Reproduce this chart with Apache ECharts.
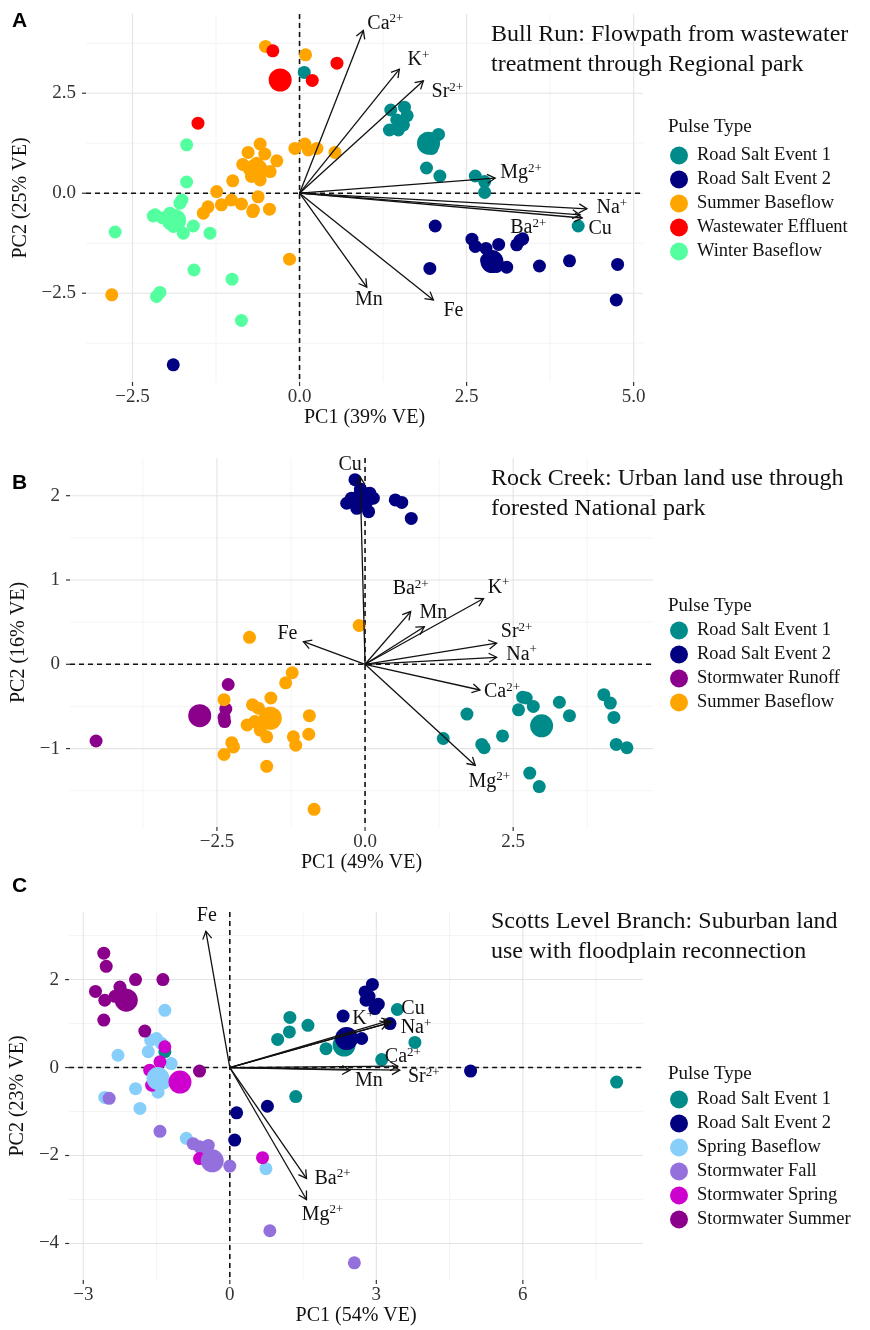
<!DOCTYPE html>
<html>
<head>
<meta charset="utf-8">
<script src="https://cdn.jsdelivr.net/npm/echarts@6/dist/echarts.min.js"></script>
<style>
  html, body { margin: 0; padding: 0; background: #ffffff; }
  #chart { width: 870px; height: 1330px; }
</style>
</head>
<body>
<div id="chart"></div>
<script>
// ---------- Panel A: Bull Run ----------
const A_groups = ['Road Salt Event 1', 'Road Salt Event 2', 'Summer Baseflow', 'Wastewater Effluent', 'Winter Baseflow'];
const A_roadSalt1 = [[1.365,2.08],[1.57,2.15],[1.61,1.94],[1.455,1.83],[1.555,1.71],[1.345,1.58],[1.48,1.58],[2.08,1.47],[1.98,1.12],[1.90,0.63],[2.10,0.43],[2.63,0.43],[2.77,0.29],[2.77,0.02],[4.17,-0.82],[0.07,3.02]];
const A_roadSalt2 = [[2.03,-0.82],[2.58,-1.15],[2.63,-1.33],[2.79,-1.38],[2.98,-1.28],[3.25,-1.29],[3.30,-1.18],[3.34,-1.14],[2.80,-1.67],[2.95,-1.83],[3.10,-1.85],[1.95,-1.88],[3.59,-1.82],[4.04,-1.69],[4.76,-1.78],[4.74,-2.67],[-1.89,-4.29]];
const A_summer = [[-0.51,3.67],[0.09,3.46],[-0.59,1.23],[-0.77,1.02],[-0.52,0.98],[-0.34,0.81],[-0.85,0.72],[-0.64,0.75],[-0.44,0.54],[-0.72,0.42],[-0.59,0.33],[-1.0,0.31],[-0.07,1.12],[0.08,1.23],[0.13,1.08],[0.26,1.12],[0.53,1.02],[-1.24,0.04],[-1.37,-0.34],[-1.44,-0.50],[-1.17,-0.29],[-1.02,-0.17],[-0.87,-0.27],[-0.69,-0.42],[-0.62,-0.09],[-0.45,-0.40],[-0.70,-0.46],[-0.15,-1.65],[-2.81,-2.54],[-0.66,0.50],[-0.75,0.60]];
const A_wastewater = [[-0.40,3.56],[0.56,3.25],[0.19,2.82],[-1.52,1.75]];
const A_winter = [[-1.69,1.21],[-1.69,0.28],[-1.76,-0.17],[-2.16,-0.54],[-1.89,-0.58],[-2.19,-0.57],[-1.94,-0.50],[-1.79,-0.25],[-1.84,-0.67],[-1.89,-0.83],[-1.74,-1.0],[-1.59,-0.82],[-1.34,-1.0],[-2.76,-0.97],[-1.58,-1.92],[-1.01,-2.15],[-2.09,-2.48],[-2.14,-2.58],[-0.87,-3.18],[-2.05,-0.62],[-1.95,-0.75]];
const A_means = [[1.93,1.25],[2.88,-1.71],[-0.65,0.58],[-0.29,2.83],[-1.87,-0.68]];
const A_vars = ['Ca2+','K+','Sr2+','Mg2+','Na+','Ba2+','Cu','Mn','Fe'];
const A_load = [[0.955,4.07],[1.494,3.10],[1.853,2.81],[2.927,0.375],[4.30,-0.39],[4.20,-0.54],[4.23,-0.62],[1.006,-2.35],[2.003,-2.67]];
const A_xTicks = [-2.5, 0, 2.5, 5];
const A_yTicks = [-2.5, 0, 2.5];
const A_xMinor = [-1.25, 1.25, 3.75];
const A_yMinor = [-3.75, -1.25, 1.25, 3.75];

// ---------- Panel B: Rock Creek ----------
const B_groups = ['Road Salt Event 1', 'Road Salt Event 2', 'Stormwater Runoff', 'Summer Baseflow'];
const B_roadSalt1 = [[2.66,-0.39],[2.59,-0.54],[2.84,-0.50],[3.28,-0.45],[3.45,-0.61],[4.03,-0.36],[4.14,-0.46],[4.20,-0.63],[4.24,-0.95],[4.42,-0.99],[1.72,-0.59],[1.32,-0.88],[1.97,-0.95],[2.01,-0.99],[2.32,-0.85],[2.78,-1.29],[2.94,-1.45],[2.72,-0.40]];
const B_roadSalt2 = [[-0.17,2.19],[-0.31,1.91],[-0.23,1.97],[-0.14,1.85],[0.06,1.81],[0.08,2.03],[0.14,1.97],[0.0,1.93],[-0.06,1.99],[0.51,1.95],[0.62,1.92],[0.78,1.73],[-0.08,2.08]];
const B_stormRunoff = [[-2.31,-0.24],[-2.35,-0.53],[-2.38,-0.63],[-2.37,-0.68],[-4.54,-0.91]];
const B_summer = [[-1.95,0.32],[-0.10,0.46],[-1.23,-0.10],[-1.34,-0.22],[-2.38,-0.42],[-1.59,-0.40],[-1.90,-0.48],[-1.80,-0.52],[-0.94,-0.61],[-1.99,-0.72],[-1.86,-0.68],[-1.77,-0.78],[-1.66,-0.86],[-1.21,-0.86],[-1.17,-0.96],[-0.95,-0.83],[-2.25,-0.93],[-2.22,-0.98],[-2.38,-1.07],[-1.66,-1.21],[-0.86,-1.72]];
const B_means = [[2.98,-0.73],[-0.03,1.97],[-2.79,-0.61],[-1.60,-0.64]];
const B_vars = ['Cu','Ba2+','Mn','K+','Sr2+','Na+','Ca2+','Mg2+','Fe'];
const B_load = [[-0.084,2.225],[0.77,0.625],[1.0,0.446],[2.0,0.78],[2.22,0.25],[2.22,0.083],[1.94,-0.305],[1.86,-1.2],[-1.04,0.268]];
const B_xTicks = [-2.5, 0, 2.5];
const B_yTicks = [-1, 0, 1, 2];
const B_xMinor = [-3.75, -1.25, 1.25, 3.75];
const B_yMinor = [-1.5, -0.5, 0.5, 1.5];

// ---------- Panel C: Scotts Level Branch ----------
const C_groups = ['Road Salt Event 1', 'Road Salt Event 2', 'Spring Baseflow', 'Stormwater Fall', 'Stormwater Spring', 'Stormwater Summer'];
const C_roadSalt1 = [[0.98,0.64],[1.23,1.14],[1.22,0.81],[1.60,0.96],[1.97,0.43],[3.43,1.32],[3.79,0.57],[3.11,0.18],[7.92,-0.33],[1.35,-0.66],[-1.33,0.36]];
const C_roadSalt2 = [[2.92,1.89],[2.77,1.72],[2.85,1.62],[2.79,1.53],[3.04,1.44],[2.97,1.34],[2.32,1.17],[2.70,0.66],[3.28,1.0],[4.93,-0.08],[0.77,-0.88],[0.14,-1.03],[0.10,-1.65],[2.45,0.75]];
const C_springBase = [[-1.33,1.30],[-1.50,0.66],[-1.67,0.36],[-2.29,0.28],[-1.20,0.09],[-1.93,-0.48],[-1.47,-0.56],[-2.56,-0.68],[-1.84,-0.93],[-0.89,-1.61],[0.74,-2.30],[-1.62,0.62],[-1.40,0.55],[-1.55,-0.15],[-1.35,-0.35]];
const C_stormFall = [[-2.47,-0.70],[-1.43,-1.45],[-0.75,-1.73],[-0.62,-1.80],[-0.44,-1.77],[-0.55,-1.92],[0.0,-2.24],[0.82,-3.71],[2.55,-4.44]];
const C_stormSpring = [[-1.33,0.47],[-1.43,0.13],[-1.64,-0.06],[-1.60,-0.40],[0.67,-2.05],[-0.62,-2.07]];
const C_stormSummer = [[-2.58,2.60],[-2.53,2.30],[-1.93,2.0],[-1.37,2.0],[-2.75,1.73],[-2.25,1.83],[-2.56,1.53],[-2.58,1.08],[-1.74,0.83],[-0.62,-0.08],[-2.35,1.62],[-2.22,1.72]];
const C_means = [[2.34,0.51],[2.39,0.66],[-1.47,-0.25],[-0.36,-2.12],[-1.02,-0.33],[-2.12,1.53]];
const C_vars = ['Fe','K+','Cu','Na+','Ca2+','Sr2+','Mn','Ba2+','Mg2+'];
const C_load = [[-0.49,3.10],[3.24,1.01],[3.28,1.075],[3.32,1.03],[3.44,0.03],[3.48,-0.06],[2.46,-0.06],[1.57,-2.52],[1.57,-3.0]];
const C_xTicks = [-3, 0, 3, 6];
const C_yTicks = [-4, -2, 0, 2];
const C_xMinor = [-1.5, 1.5, 4.5, 7.5];
const C_yMinor = [-3, -1, 1, 3];

// ---------- Styling / layout ----------
const SERIF = 'Liberation Serif';
const SANS = 'Liberation Sans';
const GROUP_COLORS = {
  'Road Salt Event 1': '#008B8B',
  'Road Salt Event 2': '#000080',
  'Summer Baseflow': '#FFA500',
  'Wastewater Effluent': '#FF0000',
  'Winter Baseflow': '#54FF9F',
  'Stormwater Runoff': '#8B008B',
  'Spring Baseflow': '#87CEFA',
  'Stormwater Fall': '#9370DB',
  'Stormwater Spring': '#CD00CD',
  'Stormwater Summer': '#8B008B'
};

// pixel nudges of each loading label away from its arrow tip
const A_labelNudge = [[22,-7],[19,-9],[24,11],[26,-5],[25,-1],[-52,13],[18,11],[2,13],[20,11]];
const B_labelNudge = [[-10,-12],[0,-23],[9,-14],[15,-11],[20,-11],[25,-3],[22,2],[14,16],[-16,-8]];
const C_labelNudge = [[1,-15],[-25,-4],[23,-12],[24,6],[5,-9],[24,7],[19,11],[26,0],[16,15]];

const panels = [
  {
    grid: { left: 86, top: 14, width: 557, height: 368 },
    xRange: [-3.196, 5.14], yRange: [-4.72, 4.48],
    xTicks: A_xTicks, yTicks: A_yTicks, xMinor: A_xMinor, yMinor: A_yMinor,
    xDigits: 1, yDigits: 1,
    xName: 'PC1 (39% VE)', yName: 'PC2 (25% VE)', xNameGap: 25, yNameGap: 45,
    groups: A_groups, points: [A_roadSalt1, A_roadSalt2, A_summer, A_wastewater, A_winter], means: A_means,
    vars: A_vars, load: A_load, nudge: A_labelNudge,
    letter: 'A', letterTop: 6,
    title: 'Bull Run: Flowpath from wastewater\ntreatment through Regional park', titleTop: 15,
    legendTitleTop: 113, legendTop: 141
  },
  {
    grid: { left: 70, top: 458, width: 583, height: 369 },
    xRange: [-4.98, 4.86], yRange: [-1.93, 2.447],
    xTicks: B_xTicks, yTicks: B_yTicks, xMinor: B_xMinor, yMinor: B_yMinor,
    xDigits: 1, yDigits: 0,
    xName: 'PC1 (49% VE)', yName: 'PC2 (16% VE)', xNameGap: 26, yNameGap: 26,
    groups: B_groups, points: [B_roadSalt1, B_roadSalt2, B_stormRunoff, B_summer], means: B_means,
    vars: B_vars, load: B_load, nudge: B_labelNudge,
    letter: 'B', letterTop: 468,
    title: 'Rock Creek: Urban land use through\nforested National park', titleTop: 459,
    legendTitleTop: 592, legendTop: 616
  },
  {
    grid: { left: 69, top: 912, width: 574, height: 368 },
    xRange: [-3.29, 8.46], yRange: [-4.83, 3.536],
    xTicks: C_xTicks, yTicks: C_yTicks, xMinor: C_xMinor, yMinor: C_yMinor,
    xDigits: 0, yDigits: 0,
    xName: 'PC1 (54% VE)', yName: 'PC2 (23% VE)', xNameGap: 24, yNameGap: 24,
    groups: C_groups, points: [C_roadSalt1, C_roadSalt2, C_springBase, C_stormFall, C_stormSpring, C_stormSummer], means: C_means,
    vars: C_vars, load: C_load, nudge: C_labelNudge,
    letter: 'C', letterTop: 871,
    title: 'Scotts Level Branch: Suburban land\nuse with floodplain reconnection', titleTop: 902,
    legendTitleTop: 1060, legendTop: 1085
  }
];

function fmt(digits) {
  return v => Number(v).toFixed(digits).replace('-', '\u2212');
}

// "Ca2+" -> rich text with a superscript charge
function chemRich(v) {
  const m = v.match(/^([A-Za-z]+)(\d*[+\-])?$/);
  return m[2] ? '{b|' + m[1] + '}{s|' + m[2] + '}' : '{b|' + m[1] + '}';
}

const option = {
  animation: false,
  backgroundColor: '#ffffff',
  textStyle: { fontFamily: SERIF },
  grid: [], xAxis: [], yAxis: [], series: [], title: [], legend: []
};

panels.forEach((p, i) => {
  option.grid.push(Object.assign({ containLabel: false }, p.grid));

  const tickLabelStyle = { fontFamily: SERIF, fontSize: 19, color: '#333333' };
  option.xAxis.push({
    type: 'value', gridIndex: i, min: p.xRange[0], max: p.xRange[1],
    axisLine: { show: false },
    axisTick: { show: false },
    axisLabel: Object.assign({ customValues: p.xTicks, formatter: fmt(p.xDigits), margin: 6 }, tickLabelStyle),
    splitLine: { show: false },
    name: p.xName, nameLocation: 'middle', nameGap: p.xNameGap,
    nameTextStyle: { fontFamily: SERIF, fontSize: 20, color: '#111111' }
  });
  option.yAxis.push({
    type: 'value', gridIndex: i, min: p.yRange[0], max: p.yRange[1],
    axisLine: { show: false },
    axisTick: { show: false },
    axisLabel: Object.assign({ customValues: p.yTicks, formatter: fmt(p.yDigits), margin: 10 }, tickLabelStyle),
    splitLine: { show: false },
    name: p.yName, nameLocation: 'middle', nameGap: p.yNameGap,
    nameTextStyle: { fontFamily: SERIF, fontSize: 20, color: '#111111' }
  });

  // grid lines, short outer tick marks and dashed zero lines
  option.series.push({
    type: 'custom', xAxisIndex: i, yAxisIndex: i, silent: true, z: 0, clip: false,
    data: [[0, 0]],
    renderItem: (params, api) => {
      const cs = params.coordSys;
      const kids = [];
      const seg = (x1, y1, x2, y2, style) => kids.push({ type: 'line', shape: { x1, y1, x2, y2 }, style });
      const xAt = v => api.coord([v, 0])[0];
      const yAt = v => api.coord([0, v])[1];
      const minor = { stroke: '#EFEFEF', lineWidth: 0.7 };
      const major = { stroke: '#E4E4E4', lineWidth: 1.1 };
      const tick = { stroke: '#333333', lineWidth: 1.2 };
      p.xMinor.forEach(v => seg(xAt(v), cs.y, xAt(v), cs.y + cs.height, minor));
      p.yMinor.forEach(v => seg(cs.x, yAt(v), cs.x + cs.width, yAt(v), minor));
      p.xTicks.forEach(v => seg(xAt(v), cs.y, xAt(v), cs.y + cs.height, major));
      p.yTicks.forEach(v => seg(cs.x, yAt(v), cs.x + cs.width, yAt(v), major));
      p.xTicks.forEach(v => seg(xAt(v), cs.y + cs.height, xAt(v), cs.y + cs.height + 4, tick));
      p.yTicks.forEach(v => seg(cs.x - 4, yAt(v), cs.x, yAt(v), tick));
      const zero = { stroke: '#111111', lineWidth: 1.6, lineDash: [5, 4] };
      seg(xAt(0), cs.y, xAt(0), cs.y + cs.height, zero);
      seg(cs.x, yAt(0), cs.x + cs.width, yAt(0), zero);
      return { type: 'group', children: kids };
    }
  });

  // sample points, one series per pulse type
  p.groups.forEach((g, k) => {
    option.series.push({
      type: 'scatter', name: g, xAxisIndex: i, yAxisIndex: i, z: 2,
      symbol: 'circle', symbolSize: 13,
      itemStyle: { color: GROUP_COLORS[g], opacity: 1 },
      data: p.points[k]
    });
  });
  // group mean points
  p.groups.forEach((g, k) => {
    option.series.push({
      type: 'scatter', name: g + ' mean', xAxisIndex: i, yAxisIndex: i, z: 3,
      symbol: 'circle', symbolSize: 23,
      itemStyle: { color: GROUP_COLORS[g], opacity: 1 },
      data: [p.means[k]]
    });
  });

  // loading arrows with labels
  option.series.push({
    type: 'custom', xAxisIndex: i, yAxisIndex: i, silent: true, z: 5, clip: false,
    encode: { x: 0, y: 1 },
    data: p.load.map((v, k) => [v[0], v[1], k]),
    renderItem: (params, api) => {
      const o = api.coord([0, 0]);
      const t = api.coord([api.value(0), api.value(1)]);
      const k = api.value(2);
      const ang = Math.atan2(t[1] - o[1], t[0] - o[0]);
      const L = 9, a = Math.PI / 6;
      const h1 = [t[0] - L * Math.cos(ang - a), t[1] - L * Math.sin(ang - a)];
      const h2 = [t[0] - L * Math.cos(ang + a), t[1] - L * Math.sin(ang + a)];
      const stroke = { stroke: '#111111', lineWidth: 1.3, fill: 'none' };
      return {
        type: 'group',
        children: [
          { type: 'line', shape: { x1: o[0], y1: o[1], x2: t[0], y2: t[1] }, style: stroke },
          { type: 'polyline', shape: { points: [h1, t, h2] }, style: stroke },
          {
            type: 'text', x: t[0] + p.nudge[k][0], y: t[1] + p.nudge[k][1],
            style: {
              text: chemRich(p.vars[k]), align: 'center', verticalAlign: 'middle',
              rich: {
                b: { fontFamily: SERIF, fontSize: 20, lineHeight: 22, fill: '#111111' },
                s: { fontFamily: SERIF, fontSize: 13, lineHeight: 13, verticalAlign: 'top', fill: '#111111' }
              }
            }
          }
        ]
      };
    }
  });

  // panel letter, site title, legend title
  option.title.push({
    text: p.letter, left: 7, top: p.letterTop,
    textStyle: { fontFamily: SANS, fontWeight: 'bold', fontSize: 21, color: '#000000' }
  });
  option.title.push({
    text: p.title, left: 486, top: p.titleTop,
    textStyle: { fontFamily: SERIF, fontWeight: 'normal', fontSize: 24, lineHeight: 30, color: '#111111' }
  });
  option.title.push({
    text: 'Pulse Type', left: 663, top: p.legendTitleTop,
    textStyle: { fontFamily: SERIF, fontWeight: 'normal', fontSize: 19, color: '#111111' }
  });

  option.legend.push({
    orient: 'vertical', left: 665, top: p.legendTop,
    itemWidth: 18, itemHeight: 18, itemGap: 5, icon: 'circle',
    selectedMode: false,
    textStyle: { fontFamily: SERIF, fontSize: 18.5, color: '#111111', padding: [0, 0, 0, 4] },
    data: p.groups
  });
});

const chart = echarts.init(document.getElementById('chart'), null, { renderer: 'canvas' });
chart.setOption(option);
</script>
</body>
</html>
